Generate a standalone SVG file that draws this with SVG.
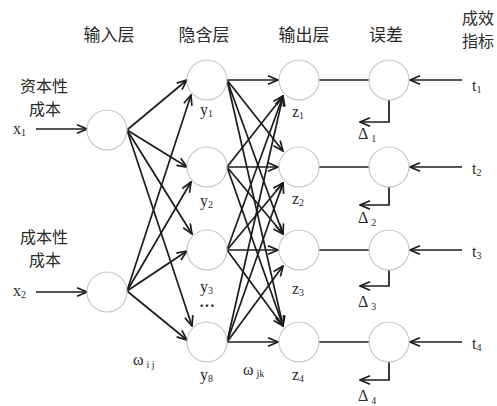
<svg xmlns="http://www.w3.org/2000/svg" width="497" height="406" viewBox="0 0 497 406">
<style>
.n{fill:#fff;stroke:#c4c4c4;stroke-width:1.1}
.c{fill:none;stroke:#1c1c1c;stroke-width:1.7}
.a{marker-end:url(#ah)}
.zh{font-family:"Noto Sans CJK SC",sans-serif;font-size:16px;fill:#2a2a2a}
.hd{font-size:17px}
.lb{font-family:"Liberation Serif",serif;font-size:16px;fill:#2a2a2a}
.sb{font-size:10px}
</style>
<defs>
<marker id="ah" viewBox="0 0 12 10" refX="11" refY="5" markerWidth="12" markerHeight="10" markerUnits="userSpaceOnUse" orient="auto">
<path d="M1,0.8 L11,5 L1,9.2" fill="none" stroke="#1c1c1c" stroke-width="1.7"/>
</marker>
</defs>
<rect width="497" height="406" fill="#fff"/>

<g id="headers">
<text class="zh hd" x="109" y="41" text-anchor="middle">输入层</text>
<text class="zh hd" x="204" y="41" text-anchor="middle">隐含层</text>
<text class="zh hd" x="304" y="41" text-anchor="middle">输出层</text>
<text class="zh hd" x="386" y="41" text-anchor="middle">误差</text>
<text class="zh" x="462" y="24">成效</text>
<text class="zh" x="462" y="47">指标</text>
</g>

<g id="connectors">
<!-- input arrows -->
<line class="c a" x1="36" y1="129" x2="87" y2="129"/>
<line class="c a" x1="36" y1="292" x2="87" y2="292"/>
<!-- input to hidden -->
<line class="c a" x1="127" y1="130" x2="187" y2="80"/>
<line class="c a" x1="127" y1="130" x2="187" y2="167"/>
<line class="c a" x1="127" y1="130" x2="192" y2="234"/>
<line class="c a" x1="127" y1="130" x2="192" y2="326"/>
<line class="c a" x1="127" y1="291" x2="191" y2="95"/>
<line class="c a" x1="127" y1="291" x2="191" y2="182"/>
<line class="c a" x1="127" y1="291" x2="187" y2="251"/>
<line class="c a" x1="127" y1="291" x2="187" y2="340"/>
<!-- hidden to output -->
<line class="c a" x1="227" y1="80" x2="278" y2="80"/>
<line class="c a" x1="227" y1="80" x2="283" y2="151"/>
<line class="c a" x1="227" y1="80" x2="283" y2="234"/>
<line class="c a" x1="227" y1="80" x2="283" y2="326"/>
<line class="c a" x1="227" y1="167" x2="283" y2="96"/>
<line class="c a" x1="227" y1="167" x2="278" y2="167"/>
<line class="c a" x1="227" y1="167" x2="283" y2="234"/>
<line class="c a" x1="227" y1="167" x2="283" y2="326"/>
<line class="c a" x1="227" y1="250" x2="283" y2="96"/>
<line class="c a" x1="227" y1="250" x2="283" y2="183"/>
<line class="c a" x1="227" y1="250" x2="278" y2="250"/>
<line class="c a" x1="227" y1="250" x2="283" y2="326"/>
<line class="c a" x1="227" y1="342" x2="283" y2="96"/>
<line class="c a" x1="227" y1="342" x2="283" y2="183"/>
<line class="c a" x1="227" y1="342" x2="283" y2="266"/>
<line class="c a" x1="227" y1="342" x2="278" y2="342"/>
<!-- output to error -->
<line class="c" x1="319" y1="80" x2="369" y2="80"/>
<line class="c" x1="319" y1="167" x2="369" y2="167"/>
<line class="c" x1="319" y1="250" x2="369" y2="250"/>
<line class="c" x1="319" y1="342" x2="369" y2="342"/>
<!-- targets to error -->
<line class="c a" x1="462" y1="80" x2="410" y2="80"/>
<line class="c a" x1="462" y1="167" x2="410" y2="167"/>
<line class="c a" x1="462" y1="250" x2="410" y2="250"/>
<line class="c a" x1="462" y1="342" x2="410" y2="342"/>
<!-- error feedback -->
<path class="c a" d="M389,100 V122 H360"/>
<path class="c a" d="M389,187 V205 H360"/>
<path class="c a" d="M389,270 V286 H360"/>
<path class="c a" d="M389,362 V380 H360"/>
</g>

<g id="input1">
<circle class="n" cx="107" cy="130" r="20"/>
<text class="zh" x="44" y="92" text-anchor="middle">资本性</text>
<text class="zh" x="45" y="115" text-anchor="middle">成本</text>
<text class="lb" x="13" y="134">x<tspan class="sb" dy="2">1</tspan></text>
</g>
<g id="input2">
<circle class="n" cx="107" cy="292" r="20"/>
<text class="zh" x="44" y="243" text-anchor="middle">成本性</text>
<text class="zh" x="45" y="266" text-anchor="middle">成本</text>
<text class="lb" x="13" y="296">x<tspan class="sb" dy="2">2</tspan></text>
</g>

<g id="hidden1"><circle class="n" cx="207" cy="80" r="20"/><text class="lb" x="200" y="115">y<tspan class="sb" dy="2">1</tspan></text></g>
<g id="hidden2"><circle class="n" cx="207" cy="167" r="20"/><text class="lb" x="200" y="206">y<tspan class="sb" dy="2">2</tspan></text></g>
<g id="hidden3"><circle class="n" cx="207" cy="250" r="20"/><text class="lb" x="200" y="292">y<tspan class="sb" dy="2">3</tspan></text><text class="lb" x="207" y="311" text-anchor="middle" font-weight="bold">···</text></g>
<g id="hidden8"><circle class="n" cx="207" cy="342" r="20"/><text class="lb" x="200" y="380">y<tspan class="sb" dy="2">8</tspan></text></g>

<g id="output1"><circle class="n" cx="299" cy="80" r="20"/><text class="lb" x="292" y="117">z<tspan class="sb" dy="2">1</tspan></text></g>
<g id="output2"><circle class="n" cx="299" cy="167" r="20"/><text class="lb" x="292" y="204">z<tspan class="sb" dy="2">2</tspan></text></g>
<g id="output3"><circle class="n" cx="299" cy="250" r="20"/><text class="lb" x="292" y="294">z<tspan class="sb" dy="2">3</tspan></text></g>
<g id="output4"><circle class="n" cx="299" cy="342" r="20"/><text class="lb" x="292" y="380">z<tspan class="sb" dy="2">4</tspan></text></g>

<g id="error1"><circle class="n" cx="389" cy="80" r="20"/><text class="lb" x="358" y="139" font-size="14">Δ<tspan class="sb" dx="3" dy="3">1</tspan></text></g>
<g id="error2"><circle class="n" cx="389" cy="167" r="20"/><text class="lb" x="358" y="223" font-size="14">Δ<tspan class="sb" dx="3" dy="3">2</tspan></text></g>
<g id="error3"><circle class="n" cx="389" cy="250" r="20"/><text class="lb" x="358" y="307" font-size="14">Δ<tspan class="sb" dx="3" dy="3">3</tspan></text></g>
<g id="error4"><circle class="n" cx="389" cy="342" r="20"/><text class="lb" x="358" y="401" font-size="14">Δ<tspan class="sb" dx="3" dy="3">4</tspan></text></g>

<g id="targets">
<text class="lb" x="472" y="91">t<tspan class="sb" dy="2">1</tspan></text>
<text class="lb" x="472" y="174">t<tspan class="sb" dy="2">2</tspan></text>
<text class="lb" x="472" y="257">t<tspan class="sb" dy="2">3</tspan></text>
<text class="lb" x="472" y="349">t<tspan class="sb" dy="2">4</tspan></text>
</g>

<g id="weights">
<text class="lb" x="133" y="365" font-size="13">ω<tspan class="sb" dx="3" dy="3">i j</tspan></text>
<text class="lb" x="243" y="375" font-size="13">ω<tspan class="sb" dx="3" dy="2">jk</tspan></text>
</g>
</svg>
